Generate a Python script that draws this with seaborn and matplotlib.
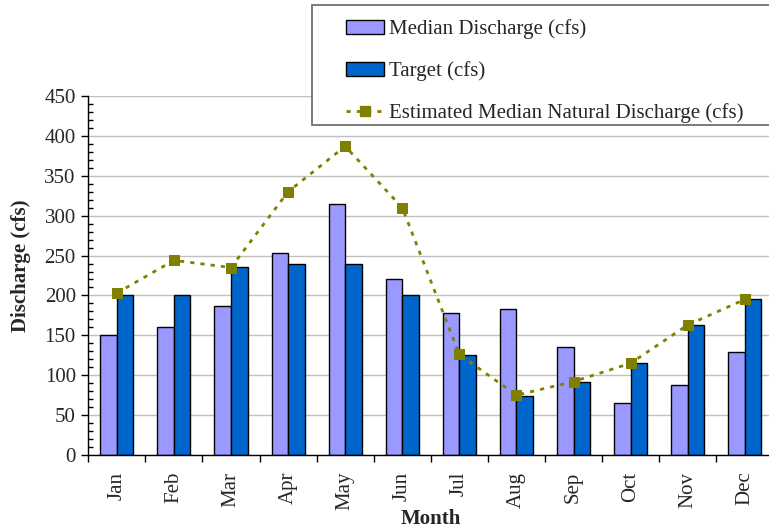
import matplotlib
matplotlib.use('Agg')
from matplotlib import pyplot as plt
from matplotlib.patches import Patch, Rectangle
from matplotlib.lines import Line2D
from matplotlib.ticker import MultipleLocator, FixedLocator
import seaborn as sns
import numpy as np
import pandas as pd

# 数据
months = ['Jan', 'Feb', 'Mar', 'Apr', 'May', 'Jun',
          'Jul', 'Aug', 'Sep', 'Oct', 'Nov', 'Dec']
medianDischarge = [151, 160, 187, 253, 315, 220, 178, 183, 135, 65, 88, 129]
target = [200, 200, 236, 240, 240, 200, 125, 74, 92, 115, 163, 195]
naturalDischarge = [203, 244, 235, 330, 387, 310, 126, 75, 92, 115, 163, 195]

seriesNames = ['Median Discharge (cfs)', 'Target (cfs)',
               'Estimated Median Natural Discharge (cfs)']
barColors = ['#9999FF', '#0066CC']
lineColor = '#808000'

df = pd.DataFrame({
    'Month': months * 2,
    'Discharge': medianDischarge + target,
    'Series': [seriesNames[0]] * 12 + [seriesNames[1]] * 12,
})

sns.set_style('white')
plt.rcParams['font.family'] = ['Liberation Serif', 'DejaVu Serif']
fs = 15

W, H = 769, 531
fig = plt.figure(figsize=(W / 100, H / 100), dpi=100)
# 坐标轴位置（像素换算）
ax = fig.add_axes([88.3 / W, (H - 455) / H, 685 / W, 359 / H])

sns.barplot(data=df, x='Month', y='Discharge', hue='Series',
            order=months, hue_order=seriesNames[:2], palette=barColors,
            saturation=1, width=0.58, edgecolor='black', linewidth=1,
            legend=False, ax=ax, zorder=2)

dashStyle = (0, (1.5, 2.2))
sns.lineplot(x=np.arange(len(months)), y=naturalDischarge, color=lineColor,
             marker='s', markersize=7, markeredgecolor=lineColor,
             linestyle=dashStyle, linewidth=2, ax=ax, zorder=3)

ax.set_xlim(-0.5, 11.5)
ax.set_ylim(0, 450)

# y轴刻度
ax.yaxis.set_major_locator(MultipleLocator(50))
ax.yaxis.set_minor_locator(MultipleLocator(10))
ax.tick_params(axis='y', which='major', direction='out', length=5, width=1,
               labelsize=fs, pad=4, left=True, color='black')
ax.tick_params(axis='y', which='minor', direction='in', length=3.5, width=1,
               left=True, color='black')

# x轴：标签在中心，刻度线在分界处
ax.xaxis.set_major_locator(FixedLocator(np.arange(12)))
ax.xaxis.set_minor_locator(FixedLocator(np.arange(-0.5, 12, 1)))
ax.set_xticklabels(months, rotation=90, fontsize=fs)
ax.tick_params(axis='x', which='major', length=0, pad=12)
ax.tick_params(axis='x', which='minor', direction='out', length=5, width=1,
               bottom=True, color='black')

ax.yaxis.grid(True, color='#c0c0c0', linewidth=1)
ax.set_axisbelow(True)
for s in ['top', 'right']:
    ax.spines[s].set_visible(False)
for s in ['left', 'bottom']:
    ax.spines[s].set_color('black')
    ax.spines[s].set_linewidth(1)

ax.set_ylabel('Discharge (cfs)', fontsize=fs, fontweight='bold')
ax.yaxis.set_label_coords(21 / W, 0.5, transform=fig.transFigure)
ax.set_xlabel('Month', fontsize=fs, fontweight='bold')
ax.xaxis.set_label_coords(431 / W, 1 - 519 / H, transform=fig.transFigure)
ax.xaxis.label.set_va('center')
ax.yaxis.label.set_va('center')

# 图例框
fig.add_artist(Rectangle((311.5 / W, 1 - 125 / H), (820 - 311.5) / W, 120 / H,
                         transform=fig.transFigure, facecolor='white',
                         edgecolor='#707070', linewidth=1.3, zorder=4))
handles = [Patch(facecolor=barColors[0], edgecolor='black', linewidth=1),
           Patch(facecolor=barColors[1], edgecolor='black', linewidth=1),
           Line2D([], [], color=lineColor, marker='s', markersize=7,
                  linestyle=dashStyle, linewidth=2)]
fig.legend(handles, seriesNames, loc='upper left',
           bbox_to_anchor=(336 / W, 1 - 9 / H), frameon=False,
           fontsize=fs, borderpad=0, handlelength=1.8, handletextpad=0.25,
           labelspacing=1.05)

fig.savefig('out.png', dpi=100)
